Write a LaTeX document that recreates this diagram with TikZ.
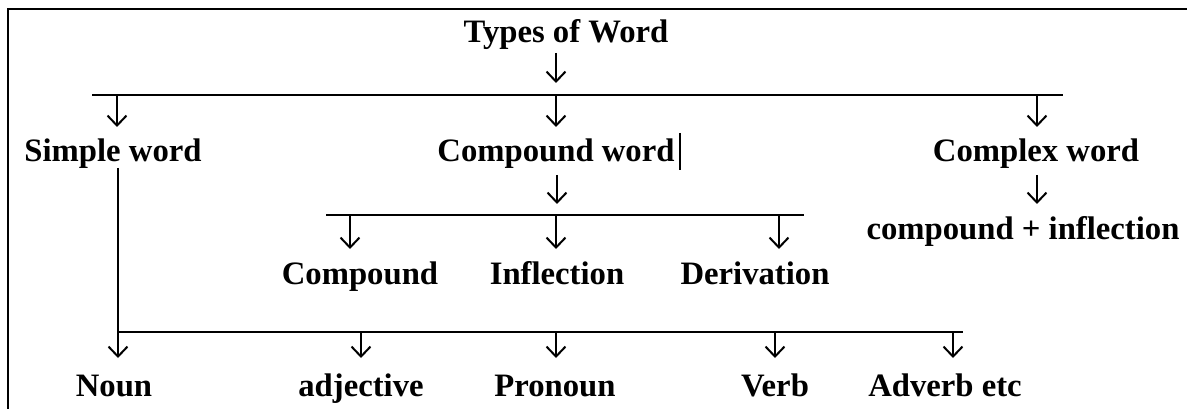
\documentclass[tikz,border=0pt]{standalone}
\usepackage{fontspec}
\setmainfont{Liberation Serif}
\usetikzlibrary{arrows.meta}
\begin{document}
\begin{tikzpicture}[x=1pt,y=-1pt,
  lbl/.style={anchor=base, inner sep=0pt, font=\fontsize{32.7}{38}\selectfont\bfseries},
  bar/.style={line width=1.7pt},
  arr/.style={line width=2pt, -{Straight Barb[length=10pt,width=19pt,line width=2pt]}}]
\useasboundingbox (0,0) rectangle (1187,409);
% frame
\draw[line width=2pt] (8,409) -- (8,9) -- (1187,9);
% texts
\node[lbl] (types) at (566,43) {Types of Word};
\node[lbl] (simple) at (113,162) {Simple word};
\node[lbl] (compound) at (556,162) {Compound word};
\node[lbl] (complex) at (1036,162) {Complex word};
\node[lbl] (cinf) at (1023,240) {compound + inflection};
\node[lbl] (comp2) at (360,284) {Compound};
\node[lbl] (infl) at (557,284) {Inflection};
\node[lbl] (deriv) at (755,284) {Derivation};
\node[lbl] (noun) at (114,396) {Noun};
\node[lbl] (adj) at (361,396) {adjective};
\node[lbl] (pron) at (555,396) {Pronoun};
\node[lbl] (verb) at (775,396) {Verb};
\node[lbl] (adv) at (945,396) {Adverb etc};
% cursor bar
\draw[line width=2pt] (680,133) -- (680,170);
% bar 1
\coordinate (b1l) at (92,95);
\coordinate (b1r) at (1063,95);
\draw[bar] (b1l) -- (b1r);
\draw[arr] (556,53) -- (556,83);
\draw[arr] (117,95) -- (117,127);
\draw[arr] (556,95) -- (556,127);
\draw[arr] (1037,95) -- (1037,127);
% under compound and complex
\draw[arr] (557,175) -- (557,204);
\draw[arr] (1037,175) -- (1037,204);
% bar 2
\coordinate (b2l) at (326,215);
\coordinate (b2r) at (804,215);
\draw[bar] (b2l) -- (b2r);
\draw[arr] (350,215) -- (350,249);
\draw[arr] (556,215) -- (556,249);
\draw[arr] (779,215) -- (779,249);
% simple word branch
\coordinate (b3l) at (118,332);
\coordinate (b3r) at (963,332);
\draw[bar] (118,168) -- (b3l) -- (b3r);
\draw[arr] (118,332) -- (118,358);
\draw[arr] (361,332) -- (361,358);
\draw[arr] (556,332) -- (556,358);
\draw[arr] (775,332) -- (775,358);
\draw[arr] (953,332) -- (953,358);
\end{tikzpicture}
\end{document}
